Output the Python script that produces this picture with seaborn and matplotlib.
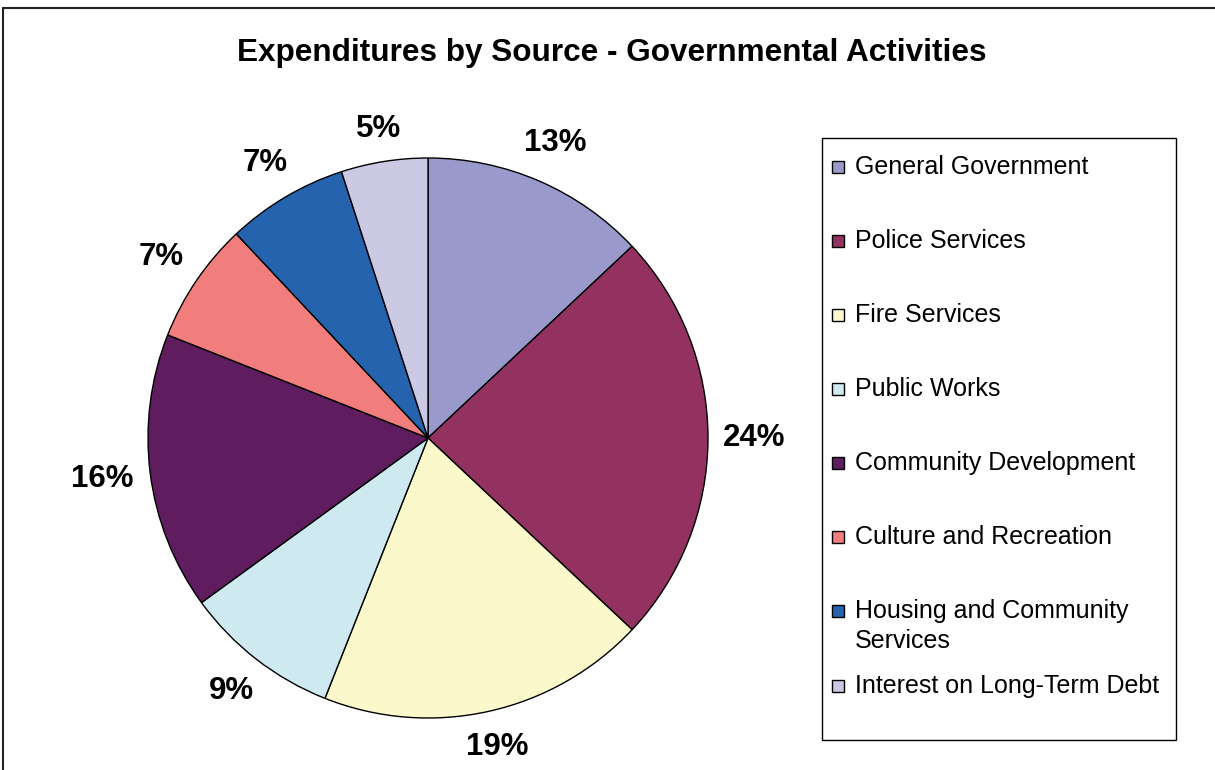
import matplotlib
matplotlib.use("Agg")
import numpy as np
import matplotlib.pyplot as plt
from matplotlib.patches import Rectangle
from matplotlib.lines import Line2D
import seaborn as sns

categories = [
    "General Government",
    "Police Services",
    "Fire Services",
    "Public Works",
    "Community Development",
    "Culture and Recreation",
    "Housing and Community\nServices",
    "Interest on Long-Term Debt",
]
shares = [13, 24, 19, 9, 16, 7, 7, 5]
slice_colors = ["#9999CC", "#933260", "#FBF8CC", "#CEEAF0",
                "#5F1D5F", "#F27D7D", "#2563AE", "#CCC9E4"]
title = "Expenditures by Source - Governmental Activities"

sns.set_theme(style="white")
plt.rcParams["font.family"] = ["Liberation Sans", "DejaVu Sans"]
palette = sns.color_palette(slice_colors)

W, H = 1215, 770
fig = plt.figure(figsize=(W / 100, H / 100), dpi=100)
fig.patch.set_facecolor("white")


def fx(px):
    return px / W


def fy(py):
    return 1 - py / H


# pie axes: square region centred on the pie
cx, cy, r = 428, 438, 280
ax = fig.add_axes([fx(cx - r), fy(cy + r), 2 * r / W, 2 * r / H])
wedges, texts = ax.pie(
    shares,
    colors=palette,
    startangle=90,
    counterclock=False,
    radius=1,
    labels=[f"{v}%" for v in shares],
    labeldistance=1.15,
    wedgeprops=dict(edgecolor="black", linewidth=1.0),
    textprops=dict(fontsize=22.5, fontweight="bold", color="black"),
)
ax.set_xlim(-1, 1)
ax.set_ylim(-1, 1)
ax.set_aspect("equal")
ax.axis("off")

# push each percentage label out so its box sits a fixed gap off the rim
fig.canvas.draw()
renderer = fig.canvas.get_renderer()
px_per_unit = r
gap = 15 / px_per_unit
for w, t in zip(wedges, texts):
    mid = np.deg2rad((w.theta1 + w.theta2) / 2)
    ux, uy = np.cos(mid), np.sin(mid)
    bb = t.get_window_extent(renderer)
    hw = bb.width / 2 / px_per_unit
    hh = bb.height / 2 / px_per_unit
    d = 1 + gap + abs(ux) * hw + abs(uy) * hh
    t.set_position((d * ux, d * uy))
    t.set_horizontalalignment("center")
    t.set_verticalalignment("center")

fig.text(fx(612), fy(53), title, ha="center", va="center",
         fontsize=22.7, fontweight="bold", color="black")

# legend panel
lx0, ly0, lx1, ly1 = 822, 138, 1176, 740
fig.add_artist(Rectangle((fx(lx0), fy(ly1)), (lx1 - lx0) / W, (ly1 - ly0) / H,
                         transform=fig.transFigure, facecolor="white",
                         edgecolor="black", linewidth=1.0))
y = 167
for name, col in zip(categories, palette):
    fig.add_artist(Rectangle((fx(832), fy(y + 6)), 12 / W, 12 / H,
                             transform=fig.transFigure, facecolor=col,
                             edgecolor="black", linewidth=1.0))
    lines = name.split("\n")
    for k, line in enumerate(lines):
        fig.text(fx(855), fy(y + 30 * k), line, ha="left", va="center",
                 fontsize=18, color="black")
    y += 74 + (len(lines) - 1)

# outer frame (top and left edges)
fig.add_artist(Line2D([fx(2.5), 1.0], [fy(7.5), fy(7.5)], transform=fig.transFigure,
                      color="#222222", linewidth=1.5))
fig.add_artist(Line2D([fx(2.5), fx(2.5)], [0.0, fy(7.5)], transform=fig.transFigure,
                      color="#222222", linewidth=1.5))

fig.savefig("out.png", dpi=100, facecolor="white")
